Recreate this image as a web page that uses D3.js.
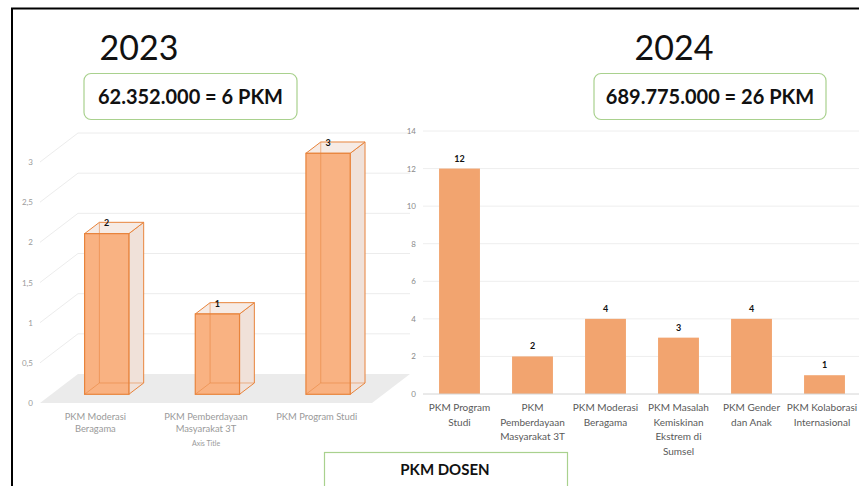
<!DOCTYPE html>
<html>
<head>
<meta charset="utf-8">
<script src="https://cdn.jsdelivr.net/npm/d3@7"></script>
<style>
  body { margin: 0; background: #fff; }
  svg { display: block; font-family: Lato, "Open Sans", sans-serif; }
</style>
</head>
<body>
<div id="container"></div>
<script>
// data
const years = ["2023", "2024"];
const totals = ["62.352.000 = 6 PKM", "689.775.000 = 26 PKM"];

const cats2023 = ["PKM Moderasi\nBeragama", "PKM Pemberdayaan\nMasyarakat 3T", "PKM Program Studi"];
const vals2023 = [2, 1, 3];
const ticks2023 = [0, 0.5, 1, 1.5, 2, 2.5, 3];

const cats2024 = ["PKM Program\nStudi", "PKM\nPemberdayaan\nMasyarakat 3T", "PKM Moderasi\nBeragama",
  "PKM Masalah\nKemiskinan\nEkstrem di\nSumsel", "PKM Gender\ndan Anak", "PKM Kolaborasi\nInternasional"];
const vals2024 = [12, 2, 4, 3, 4, 1];
const ticks2024 = [0, 2, 4, 6, 8, 10, 12, 14];

const W = 859, H = 486;
const svg = d3.select("#container").append("svg")
  .attr("width", W)
  .attr("height", H);

// frame
svg.append("path")
  .attr("d", "M12," + H + " L12,8.5 L" + W + ",8.5")
  .attr("fill", "none")
  .attr("stroke", "#000")
  .attr("stroke-width", 2);

// ---------- 2023: 3D column chart ----------
const xL = d3.scaleBand().domain(cats2023).range([40, 372]).paddingInner(0.6).paddingOuter(0.3);
const yL = d3.scaleLinear().domain([0, 3]).range([403, 162]);
const DX = 38, DY = -29;       // full depth of the plot
const fF = 0.3, fB = 0.69;     // bar front / back position in the depth

const left = svg.append("g");

// floor
left.append("polygon")
  .attr("points", [[40, yL(0)], [372, yL(0)], [372 + DX, yL(0) + DY], [40 + DX, yL(0) + DY]].join(" "))
  .attr("fill", "#ebebeb");

// gridlines (side wall diagonal + back wall)
left.selectAll("path.grid")
  .data(ticks2023.filter(t => t > 0))
  .enter().append("path")
  .attr("class", "grid")
  .attr("d", t => "M40," + yL(t) + " L" + (40 + DX) + "," + (yL(t) + DY) + " L" + (372 + DX) + "," + (yL(t) + DY))
  .attr("fill", "none")
  .attr("stroke", "#ececec")
  .attr("stroke-width", 1);

left.selectAll("text.ytick")
  .data(ticks2023)
  .enter().append("text")
  .attr("class", "ytick")
  .attr("x", 33)
  .attr("y", t => yL(t) + 3)
  .attr("text-anchor", "end")
  .attr("font-size", 8)
  .attr("fill", "#9a9a9a")
  .text(t => String(t).replace(".", ","));

const edge = "#e8843c";
vals2023.forEach((v, i) => {
  const c = cats2023[i];
  const x0 = xL(c) + DX * fF, x1 = x0 + xL.bandwidth();
  const yb = yL(0) + DY * fF, yt = yL(v) + DY * fF;
  const ox = DX * (fB - fF), oy = DY * (fB - fF);
  const g = left.append("g");
  // right side face
  g.append("polygon")
    .attr("points", [[x1, yb], [x1 + ox, yb + oy], [x1 + ox, yt + oy], [x1, yt]].join(" "))
    .attr("fill", "#f0e1d9").attr("stroke", edge).attr("stroke-width", 1);
  // top face
  g.append("polygon")
    .attr("points", [[x0, yt], [x1, yt], [x1 + ox, yt + oy], [x0 + ox, yt + oy]].join(" "))
    .attr("fill", "#f6ebe5").attr("stroke", edge).attr("stroke-width", 1);
  // front face
  g.append("rect")
    .attr("x", x0).attr("y", yt)
    .attr("width", x1 - x0).attr("height", yb - yt)
    .attr("fill", "#f9b282").attr("stroke", edge).attr("stroke-width", 1.2);
  // hidden edges showing through
  g.append("path")
    .attr("d", "M" + x0 + "," + yb + " L" + (x0 + ox) + "," + (yb + oy) + " L" + (x1 + ox) + "," + (yb + oy) +
      " M" + (x0 + ox) + "," + (yb + oy) + " L" + (x0 + ox) + "," + (yt + oy))
    .attr("fill", "none").attr("stroke", edge).attr("stroke-opacity", 0.55).attr("stroke-width", 1);
  g.append("text")
    .attr("x", x0 + xL.bandwidth() / 2)
    .attr("y", yt + oy + 4)
    .attr("text-anchor", "middle")
    .attr("font-size", 9)
    .attr("font-weight", "bold")
    .attr("fill", "#111")
    .text(v);
});

left.selectAll("text.cat")
  .data(cats2023)
  .enter().append("text")
  .attr("class", "cat")
  .attr("text-anchor", "middle")
  .attr("font-size", 9.4)
  .attr("fill", "#9a9a9a")
  .each(function(d) {
    const cx = xL(d) + xL.bandwidth() / 2;
    d.split("\n").forEach((line, k) => {
      d3.select(this).append("tspan").attr("x", cx).attr("y", 419.5 + k * 12).text(line);
    });
  });

left.append("text")
  .attr("x", xL(cats2023[1]) + xL.bandwidth() / 2)
  .attr("y", 445.5)
  .attr("text-anchor", "middle")
  .attr("font-size", 7)
  .attr("fill", "#9a9a9a")
  .text("Axis Title");

// ---------- 2024: flat column chart ----------
const xR = d3.scaleBand().domain(cats2024).range([423, 861]).paddingInner(0.44).paddingOuter(0.22);
const yR = d3.scaleLinear().domain([0, 14]).range([394, 131]);

const right = svg.append("g");

right.selectAll("line.grid")
  .data(ticks2024.filter(t => t > 0))
  .enter().append("line")
  .attr("class", "grid")
  .attr("x1", 423).attr("x2", W)
  .attr("y1", t => yR(t)).attr("y2", t => yR(t))
  .attr("stroke", "#eeeeee");

right.selectAll("text.ytick")
  .data(ticks2024)
  .enter().append("text")
  .attr("class", "ytick")
  .attr("x", 416)
  .attr("y", t => yR(t) + 3)
  .attr("text-anchor", "end")
  .attr("font-size", 8)
  .attr("fill", "#8a8a8a")
  .text(t => t);

right.selectAll("rect.bar")
  .data(vals2024)
  .enter().append("rect")
  .attr("class", "bar")
  .attr("x", (d, i) => xR(cats2024[i]))
  .attr("y", d => yR(d))
  .attr("width", xR.bandwidth())
  .attr("height", d => yR(0) - yR(d))
  .attr("fill", "#f2a46f");

right.append("line")
  .attr("x1", 423).attr("x2", W)
  .attr("y1", yR(0)).attr("y2", yR(0))
  .attr("stroke", "#d4d4d4");

right.selectAll("text.val")
  .data(vals2024)
  .enter().append("text")
  .attr("class", "val")
  .attr("x", (d, i) => xR(cats2024[i]) + xR.bandwidth() / 2)
  .attr("y", d => yR(d) - 7)
  .attr("text-anchor", "middle")
  .attr("font-size", 9)
  .attr("font-weight", "bold")
  .attr("fill", "#111")
  .text(d => d);

right.selectAll("text.cat")
  .data(cats2024)
  .enter().append("text")
  .attr("class", "cat")
  .attr("text-anchor", "middle")
  .attr("font-size", 10)
  .attr("fill", "#595959")
  .each(function(d, i) {
    // last label sits against the right edge, keep it inside the window
    const cx = Math.min(xR(d) + xR.bandwidth() / 2, 822);
    d.split("\n").forEach((line, k) => {
      d3.select(this).append("tspan").attr("x", cx).attr("y", 411 + k * 14.5).text(line);
    });
  });

// ---------- headings and boxes ----------
const heads = [
  { year: years[0], total: totals[0], yx: 139, bx: 84, bw: 213 },
  { year: years[1], total: totals[1], yx: 674, bx: 594, bw: 232 }
];
heads.forEach(h => {
  svg.append("text")
    .attr("x", h.yx).attr("y", 60)
    .attr("text-anchor", "middle")
    .attr("font-size", 34)
    .attr("fill", "#111")
    .text(h.year);
  svg.append("rect")
    .attr("x", h.bx).attr("y", 73.5)
    .attr("width", h.bw).attr("height", 46)
    .attr("rx", 7)
    .attr("fill", "#fff")
    .attr("stroke", "#a9d18e")
    .attr("stroke-width", 1.2);
  svg.append("text")
    .attr("x", h.bx + h.bw / 2).attr("y", 103.5)
    .attr("text-anchor", "middle")
    .attr("font-size", 20)
    .attr("font-weight", "bold")
    .attr("fill", "#111")
    .text(h.total);
});

svg.append("rect")
  .attr("x", 324.5).attr("y", 452.5)
  .attr("width", 243).attr("height", 50)
  .attr("fill", "#fff")
  .attr("stroke", "#a9d18e")
  .attr("stroke-width", 1.2);
svg.append("text")
  .attr("x", 445).attr("y", 475)
  .attr("text-anchor", "middle")
  .attr("font-size", 15)
  .attr("font-weight", "bold")
  .attr("fill", "#111")
  .text("PKM DOSEN");
</script>
</body>
</html>
